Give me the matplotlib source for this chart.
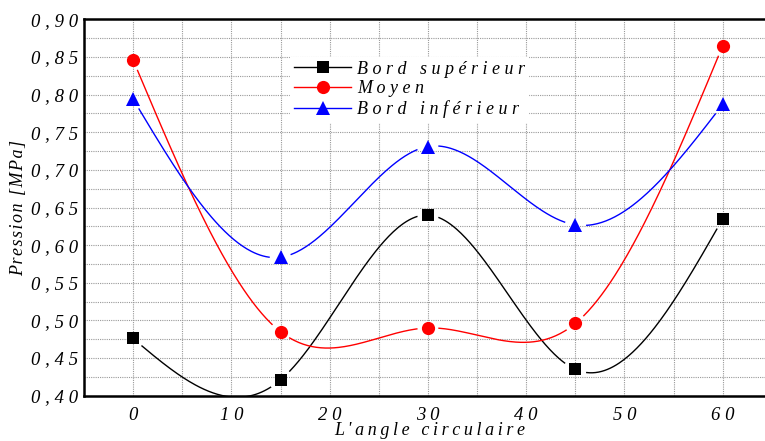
import numpy as np
import matplotlib
matplotlib.use("Agg")
import matplotlib.pyplot as plt

# values
angles = [0, 15, 30, 45, 60]
bord_sup = [0.476, 0.421, 0.640, 0.435, 0.635]
moyen = [0.846, 0.485, 0.490, 0.496, 0.865]
bord_inf = [0.794, 0.584, 0.731, 0.627, 0.787]

x_ticks = [0, 10, 20, 30, 40, 50, 60]
y_ticks = [0.40, 0.45, 0.50, 0.55, 0.60, 0.65, 0.70, 0.75, 0.80, 0.85, 0.90]
y_labels = ['0,40', '0,45', '0,50', '0,55', '0,60', '0,65', '0,70', '0,75',
            '0,80', '0,85', '0,90']


def spaced(s, sep='\u2009'):
    return sep.join(list(s))


def natural_spline(x, y, n=400):
    # natural cubic spline, like Origin's "spline" connection
    x = np.asarray(x, float)
    y = np.asarray(y, float)
    k = len(x)
    h = np.diff(x)
    A = np.zeros((k, k))
    b = np.zeros(k)
    A[0, 0] = A[-1, -1] = 1
    for i in range(1, k - 1):
        A[i, i - 1] = h[i - 1]
        A[i, i] = 2 * (h[i - 1] + h[i])
        A[i, i + 1] = h[i]
        b[i] = 6 * ((y[i + 1] - y[i]) / h[i] - (y[i] - y[i - 1]) / h[i - 1])
    M = np.linalg.solve(A, b)
    xs = np.linspace(x[0], x[-1], n)
    idx = np.clip(np.searchsorted(x, xs) - 1, 0, k - 2)
    x0, x1 = x[idx], x[idx + 1]
    hh = x1 - x0
    ys = (M[idx] * (x1 - xs) ** 3 / (6 * hh) + M[idx + 1] * (xs - x0) ** 3 / (6 * hh)
          + (y[idx] / hh - M[idx] * hh / 6) * (x1 - xs)
          + (y[idx + 1] / hh - M[idx + 1] * hh / 6) * (xs - x0))
    return xs, ys


serif = ['Liberation Serif', 'DejaVu Serif']
plt.rcParams['font.family'] = serif
plt.rcParams['font.style'] = 'italic'

fig = plt.figure(figsize=(7.65, 4.41), dpi=100)
ax = fig.add_axes([0.1098, 0.1027, 0.903, 0.8535])
ax.set_xlim(-5, 65.3)
ax.set_ylim(0.40, 0.90)

series = [
    (bord_sup, 'black', 's', 8.5, 'Bord supérieur'),
    (moyen, 'red', 'o', 9.5, 'Moyen'),
    (bord_inf, 'blue', '^', 10.5, 'Bord inférieur'),
]

gap = 11  # px gap between curve and markers
for vals, col, mk, ms, name in series:
    xs, ys = natural_spline(angles, vals)
    pix = ax.transData.transform(np.column_stack([xs, ys]))
    mpix = ax.transData.transform(np.column_stack([angles, vals]))
    d = np.min(np.hypot(pix[:, None, 0] - mpix[None, :, 0],
                        pix[:, None, 1] - mpix[None, :, 1]), axis=1)
    ys = np.where(d < gap, np.nan, ys)
    ax.plot(xs, ys, color=col, lw=1.0, zorder=3)
    ax.plot(angles, vals, linestyle='none', marker=mk, ms=ms, color=col,
            markeredgewidth=0, zorder=4)
    # legend proxy
    ax.plot([], [], color=col, lw=1.0, marker=mk, ms=ms, markeredgewidth=0,
            label=spaced(name, ' '))

ax.set_xticks(x_ticks)
ax.set_xticklabels([spaced(str(v), ' ') for v in x_ticks])
ax.set_xticks(np.arange(-5, 66, 5), minor=True)
ax.set_yticks(y_ticks)
ax.set_yticklabels([spaced(s, ' ') for s in y_labels])
ax.set_yticks(np.arange(0.40, 0.9001, 0.025), minor=True)

ax.tick_params(which='both', length=0)
ax.tick_params(axis='x', pad=8, labelsize=13.5)
ax.tick_params(axis='y', pad=4, labelsize=13.5)

ax.grid(which='both', color='#999999', linestyle=(0, (1, 1)), linewidth=0.8)
ax.set_axisbelow(True)

for side in ['left', 'bottom', 'top', 'right']:
    ax.spines[side].set_linewidth(1.8)

ax.set_xlabel(spaced("L'angle circulaire", '\u2009'), fontsize=13, labelpad=-1)
ax.set_ylabel(spaced('Pression [MPa]', '\u200a'), fontsize=13, labelpad=3)

leg = ax.legend(loc='upper left', bbox_to_anchor=(290 / 765, 1 - 57 / 441),
                bbox_transform=fig.transFigure, frameon=True, fontsize=13,
                handlelength=3.2, handletextpad=0.3, labelspacing=0.15,
                borderpad=0.2, borderaxespad=0)
leg.get_frame().set_edgecolor('white')
leg.get_frame().set_facecolor('white')
leg.get_frame().set_alpha(1)
leg.get_frame().set_boxstyle('square', pad=0)

fig.savefig('out.png', dpi=100)
